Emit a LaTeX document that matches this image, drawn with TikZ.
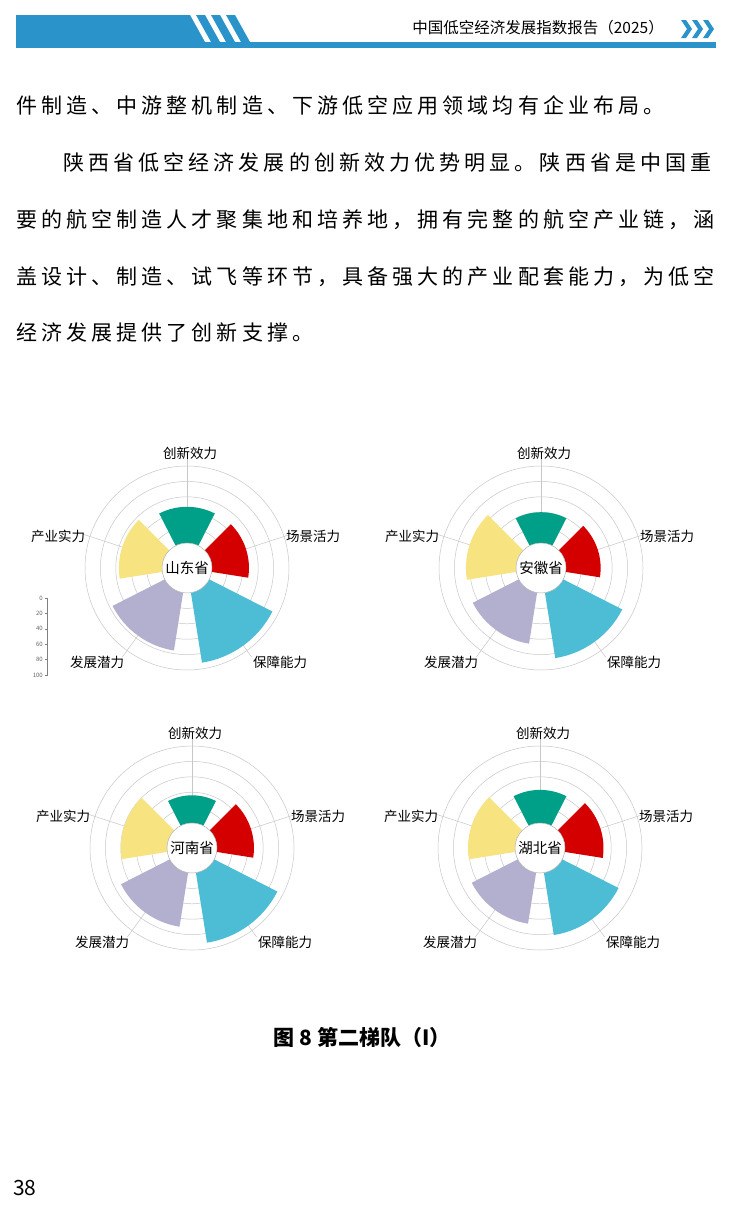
\documentclass[tikz,border=0pt]{standalone}
\usepackage{fontspec}
\usetikzlibrary{calc}
\setmainfont{Noto Sans CJK SC}
\definecolor{hdrblue}{HTML}{2A93C9}
\definecolor{cgreen}{HTML}{00A088}
\definecolor{cred}{HTML}{D40000}
\definecolor{cblue}{HTML}{4DBDD6}
\definecolor{clav}{HTML}{B3AFCF}
\definecolor{cyel}{HTML}{F7E380}
\tikzset{
  body/.style={anchor=west,inner sep=0,font=\fontsize{21}{21}\selectfont\addfontfeatures{LetterSpace=19.5}},
  lab/.style={inner sep=0,font=\fontsize{13.5}{13.5}\selectfont},
  grid/.style={draw=black!22,line width=0.5pt},
}
\newcommand{\wedgeat}[4]{%
  \pgfmathsetmacro{\wa}{-(#2)-27}\pgfmathsetmacro{\wb}{-(#2)+27}%
  \pgfmathsetmacro{\wr}{25+0.77*#3}%
  \fill[#4] ($(#1)+(\wa:25)$) -- ($(#1)+(\wa:\wr)$) arc[start angle=\wa,end angle=\wb,radius=\wr] -- ($(#1)+(\wb:25)$) arc[start angle=\wb,end angle=\wa,radius=25] -- cycle;}
\newcommand{\radar}[8]{%
  \coordinate (#1) at (#2,#3);
  \foreach \k in {1,...,5} \draw[grid] (#1) circle[radius=25+15.4*\k];
  \foreach \a in {90,18,-54,-126,162} \draw[grid] ($(#1)+(-\a:25)$) -- ($(#1)+(-\a:110)$);
  \wedgeat{#1}{90}{#4}{cgreen}
  \wedgeat{#1}{18}{#5}{cred}
  \wedgeat{#1}{-54}{#6}{cblue}
  \wedgeat{#1}{-126}{#7}{clav}
  \wedgeat{#1}{162}{#8}{cyel}
  \node[lab] (#1-a) at ($(#1)+(3,-115)$) {创新效力};
  \node[lab] (#1-b) at ($(#1)+(126,-32)$) {场景活力};
  \node[lab] (#1-c) at ($(#1)+(93,94)$) {保障能力};
  \node[lab] (#1-d) at ($(#1)+(-90,94)$) {发展潜力};
  \node[lab] (#1-e) at ($(#1)+(-129,-32)$) {产业实力};
}
\begin{document}
\begin{tikzpicture}[x=1pt,y=-1pt]
\useasboundingbox[fill=white] (0,0) rectangle (738,1213);
\fill[hdrblue] (16,15) -- (190,15) -- (205,42) -- (16,42) -- cycle;
\fill[hdrblue] (196,15) -- (205,15) -- (220,42) -- (211,42) -- cycle;
\fill[hdrblue] (211,15) -- (220,15) -- (235,42) -- (226,42) -- cycle;
\fill[hdrblue] (226,15) -- (235,15) -- (250,42) -- (241,42) -- cycle;
\fill[hdrblue] (16,42) rectangle (716,48);
\node[inner sep=0,anchor=east,font=\fontsize{15.5}{15.5}\selectfont] (hdr) at (664,28) {中国低空经济发展指数报告（2025）};
\foreach \x in {681,692,703} \fill[hdrblue] (\x,20) -- (\x+5,20) -- (\x+11,29) -- (\x+5,38) -- (\x,38) -- (\x+6,29) -- cycle;
\node[body] (l1) at (16,105) {件制造、中游整机制造、下游低空应用领域均有企业布局。};
\node[body] (l2) at (63,163) {陕西省低空经济发展的创新效力优势明显。陕西省是中国重};
\node[body] (l3) at (16,220) {要的航空制造人才聚集地和培养地，拥有完整的航空产业链，涵};
\node[body] (l4) at (16,277) {盖设计、制造、试飞等环节，具备强大的产业配套能力，为低空};
\node[body] (l5) at (16,333) {经济发展提供了创新支撑。};
\radar{sd}{187}{568}{47}{48}{92}{76}{56}
\radar{ah}{541}{568}{40}{45}{86}{67}{65}
\radar{hn}{192}{848}{36}{48}{92}{71}{60}
\radar{hb}{540}{848}{43}{50}{82}{67}{61}
\foreach \c/\t in {sd/山东省,ah/安徽省,hn/河南省,hb/湖北省}
  \node[circle,fill=white,draw=black!30,line width=0.5pt,minimum size=50pt,inner sep=0,font=\fontsize{14.5}{14.5}\selectfont] (\c-c) at (\c) {\t};
\draw[black!50,line width=0.5pt] (47,598) -- (47,676);
\foreach \v [count=\i from 0] in {0,20,40,60,80,100} {
  \draw[black!50,line width=0.5pt] (45,598+15.4*\i) -- (47,598+15.4*\i);
  \node[inner sep=0,anchor=east,font=\fontsize{6}{6}\selectfont,text=black!60] (ax\i) at (43,598+15.4*\i) {\v};
}
\node[inner sep=0,font=\bfseries\fontsize{21}{21}\selectfont] (cap) at (362,1037) {图 8 第二梯队（I）};
\node[inner sep=0,anchor=west,font=\fontsize{21}{21}\selectfont] (pg) at (13,1188) {38};
\end{tikzpicture}
\end{document}
